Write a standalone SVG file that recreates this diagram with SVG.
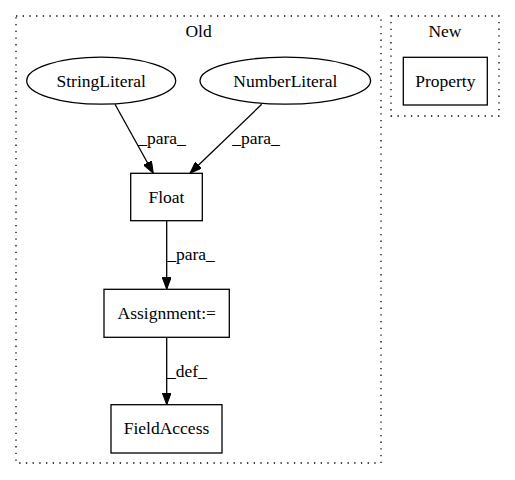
<svg xmlns="http://www.w3.org/2000/svg" width="515" height="480" viewBox="0 0 515 480">
<style>
text{font-family:"Liberation Serif","Times New Roman",Times,serif;font-size:17.5px;fill:#000}
.c{fill:none;stroke:#000;stroke-width:1.3;stroke-dasharray:1.3,5.4}
.n{fill:none;stroke:#000;stroke-width:1.3}
.e{fill:none;stroke:#000;stroke-width:1.3}
</style>
<defs>
<marker id="ah" viewBox="0 0 12 9" refX="12" refY="4.5" markerWidth="12" markerHeight="9" markerUnits="userSpaceOnUse" orient="auto">
<path d="M0,0 L12,4.5 L0,9 Z" fill="#000" stroke="#000"/>
</marker>
</defs>
<rect width="515" height="480" fill="#fff"/>
<g id="cluster_old">
<rect class="c" x="16" y="16" width="365" height="447"/>
<text x="198.5" y="36.6" text-anchor="middle">Old</text>
</g>
<g id="cluster_new">
<rect class="c" x="391" y="16" width="108" height="100"/>
<text x="445" y="36.6" text-anchor="middle">New</text>
</g>
<g id="edges">
<path class="e" d="M115,104.3 L153.3,173.3" marker-end="url(#ah)"/>
<text x="162" y="144" text-anchor="middle">_para_</text>
<path class="e" d="M261.7,104.3 L190,173.3" marker-end="url(#ah)"/>
<text x="256" y="144" text-anchor="middle">_para_</text>
<path class="e" d="M166.7,220.7 L166.7,289.3" marker-end="url(#ah)"/>
<text x="191" y="259.5" text-anchor="middle">_para_</text>
<path class="e" d="M166.7,337.3 L166.7,404.7" marker-end="url(#ah)"/>
<text x="187" y="377" text-anchor="middle">_def_</text>
</g>
<g id="StringLiteral">
<ellipse class="n" cx="101.2" cy="80.7" rx="74.5" ry="23.5"/>
<text x="101.2" y="86.8" text-anchor="middle">StringLiteral</text>
</g>
<g id="NumberLiteral">
<ellipse class="n" cx="285.3" cy="80.7" rx="85.3" ry="23.5"/>
<text x="285.3" y="86.8" text-anchor="middle">NumberLiteral</text>
</g>
<g id="Property">
<rect class="n" x="403.3" y="57.3" width="84" height="47.7"/>
<text x="445.3" y="86.8" text-anchor="middle">Property</text>
</g>
<g id="Float">
<rect class="n" x="130.7" y="173.3" width="71.6" height="47.4"/>
<text x="166.5" y="202.6" text-anchor="middle">Float</text>
</g>
<g id="Assignment">
<rect class="n" x="104" y="289.3" width="125.3" height="48"/>
<text x="166.7" y="318.5" text-anchor="middle">Assignment:=</text>
</g>
<g id="FieldAccess">
<rect class="n" x="111" y="404.7" width="111" height="48.3"/>
<text x="166.5" y="433.5" text-anchor="middle">FieldAccess</text>
</g>
</svg>
